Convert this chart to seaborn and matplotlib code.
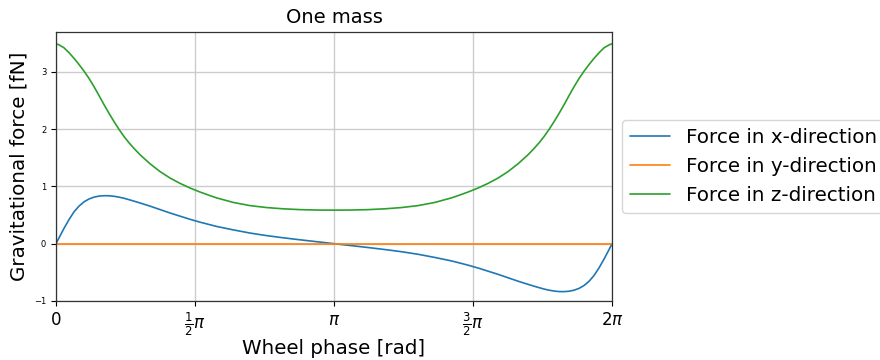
import numpy as np
import pandas as pd
import matplotlib
matplotlib.use("Agg")
import matplotlib.pyplot as plt
import seaborn as sns

# Wheel phase in radians
phase = [0.0, 0.034, 0.09, 0.147, 0.204, 0.26, 0.317, 0.373, 0.43, 0.486, 0.543,
         0.599, 0.656, 0.712, 0.769, 0.825, 0.882, 0.95, 1.063, 1.176, 1.289, 1.402,
         1.515, 1.628, 1.741, 1.817, 2.005, 2.193, 2.382, 2.57, 2.759, 2.947, 3.1416,
         3.3362, 3.5242, 3.7132, 3.9012, 4.0902, 4.2782, 4.4662, 4.5422, 4.6552,
         4.7682, 4.8812, 4.9942, 5.1072, 5.2202, 5.3332, 5.4012, 5.4582, 5.5142,
         5.5712, 5.6272, 5.6842, 5.7402, 5.7972, 5.8532, 5.9102, 5.9662, 6.0232,
         6.0792, 6.1362, 6.1932, 6.2492, 6.2832]

force_x = [0.0, 0.10, 0.265, 0.42, 0.555, 0.655, 0.73, 0.78, 0.812, 0.83, 0.837,
           0.836, 0.827, 0.812, 0.792, 0.768, 0.742, 0.71, 0.655, 0.595, 0.535, 0.48,
           0.425, 0.375, 0.33, 0.30, 0.24, 0.185, 0.14, 0.102, 0.067, 0.034, 0.0,
           -0.034, -0.067, -0.102, -0.14, -0.185, -0.24, -0.30, -0.33, -0.375,
           -0.425, -0.48, -0.535, -0.595, -0.655, -0.71, -0.742, -0.768, -0.792,
           -0.812, -0.827, -0.836, -0.837, -0.83, -0.812, -0.78, -0.73, -0.655,
           -0.555, -0.42, -0.265, -0.10, 0.0]

force_y = [0.0] * 65

force_z = [3.49, 3.47, 3.42, 3.334, 3.235, 3.128, 3.011, 2.885, 2.74, 2.586, 2.426,
           2.275, 2.13, 1.995, 1.87, 1.761, 1.661, 1.552, 1.394, 1.258, 1.145, 1.052,
           0.971, 0.901, 0.838, 0.798, 0.719, 0.664, 0.63, 0.608, 0.594, 0.587, 0.585,
           0.587, 0.594, 0.608, 0.63, 0.664, 0.719, 0.798, 0.838, 0.901, 0.971,
           1.052, 1.145, 1.258, 1.394, 1.552, 1.661, 1.761, 1.87, 1.995, 2.13,
           2.275, 2.426, 2.586, 2.74, 2.885, 3.011, 3.128, 3.235, 3.334, 3.42,
           3.47, 3.49]

series_names = ["Force in x-direction", "Force in y-direction", "Force in z-direction"]
colors = ["#1f77b4", "#ff7f0e", "#2ca02c"]

xtick_vals = [0, np.pi / 2, np.pi, 3 * np.pi / 2, 2 * np.pi]
xtick_labels = [r"$0$", r"$\frac{1}{2}\pi$", r"$\pi$", r"$\frac{3}{2}\pi$", r"$2\pi$"]
ytick_vals = [-1, 0, 1, 2, 3]

df = pd.concat([
    pd.DataFrame({"phase": phase, "force": vals, "series": name})
    for name, vals in zip(series_names, [force_x, force_y, force_z])
])

sns.set_style("ticks")
plt.rcParams["font.family"] = ["DejaVu Sans"]
plt.rcParams.update({"text.color": "black", "axes.labelcolor": "black",
                     "xtick.color": "black", "ytick.color": "black"})

fig = plt.figure(figsize=(8.8, 3.6), dpi=100)
ax = fig.add_axes([0.0636, 0.164, 0.632, 0.748])

sns.lineplot(data=df, x="phase", y="force", hue="series", palette=colors,
             estimator=None, linewidth=1.2, ax=ax)

ax.set_xlim(0, 2 * np.pi)
ax.set_ylim(-1.0, 3.7)
ax.set_xticks(xtick_vals)
ax.set_xticklabels(xtick_labels, fontsize=12)
ax.set_yticks(ytick_vals)
ax.tick_params(axis="y", labelsize=6, length=3.5, width=0.8, colors="black")
ax.tick_params(axis="x", length=3.5, width=0.8, colors="black")
ax.grid(True, color="#cccccc", linewidth=1.0)
for s in ax.spines.values():
    s.set_color("#333333")
    s.set_linewidth(0.9)

ax.set_title("One mass", fontsize=14, color="black")
ax.set_xlabel("Wheel phase [rad]", fontsize=14.3, labelpad=0.5, color="black")
ax.set_ylabel("Gravitational force [fN]", fontsize=14.3, color="black")

handles, labels = ax.get_legend_handles_labels()
leg = ax.legend(handles, labels, loc="center left", bbox_to_anchor=(1, 0.5),
                fontsize=14.3, frameon=True)
for t in leg.get_texts():
    t.set_color("black")

fig.savefig("out.png", dpi=100)
